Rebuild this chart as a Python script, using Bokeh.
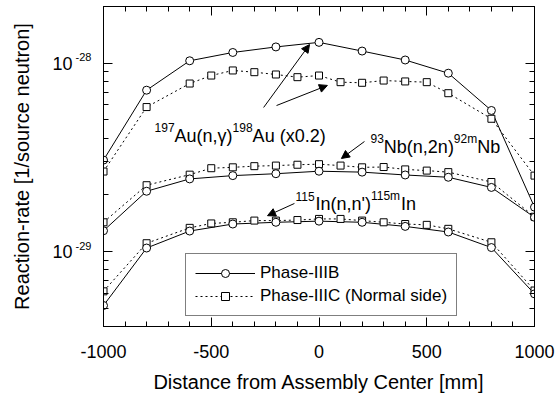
from bokeh.plotting import figure
from bokeh.models import (Range1d, FixedTicker, LogAxis, LinearAxis, Legend, LegendItem,
                          Label, Arrow, NormalHead, CustomJSTickFormatter)
from bokeh.embed import file_html
from bokeh.resources import INLINE
import math

FONT = "Liberation Sans"

# Measurement positions along the assembly axis [mm]
X_B = [-1000, -800, -600, -400, -200, 0, 200, 400, 600, 800, 1000]
X_C = [-1000, -800, -600, -500, -400, -300, -200, -100, 0, 100, 200, 300, 400,
       500, 600, 800, 1000]

# Reaction rates [1/source neutron]; Au values are already multiplied by 0.2
AU_B = [3.06e-29, 7.19e-29, 1.03e-28, 1.14e-28, 1.22e-28, 1.29e-28, 1.16e-28,
        1.04e-28, 8.85e-29, 5.61e-29, 1.72e-29]
AU_C = [2.66e-29, 5.85e-29, 7.80e-29, 8.60e-29, 9.15e-29, 8.96e-29, 8.71e-29,
        8.43e-29, 8.60e-29, 7.93e-29, 7.87e-29, 8.09e-29, 8.00e-29, 7.93e-29,
        6.93e-29, 5.07e-29, 2.53e-29]
NB_B = [1.29e-29, 2.09e-29, 2.43e-29, 2.53e-29, 2.59e-29, 2.67e-29, 2.64e-29,
        2.55e-29, 2.48e-29, 2.19e-29, 1.52e-29]
NB_C = [1.43e-29, 2.25e-29, 2.56e-29, 2.77e-29, 2.80e-29, 2.84e-29, 2.86e-29,
        2.89e-29, 2.91e-29, 2.86e-29, 2.80e-29, 2.81e-29, 2.73e-29, 2.69e-29,
        2.64e-29, 2.34e-29, 1.53e-29]
IN_B = [5.17e-30, 1.044e-29, 1.285e-29, 1.40e-29, 1.43e-29, 1.45e-29, 1.43e-29,
        1.36e-29, 1.27e-29, 1.05e-29, 5.96e-30]
IN_C = [6.15e-30, 1.107e-29, 1.336e-29, 1.41e-29, 1.43e-29, 1.46e-29, 1.46e-29,
        1.47e-29, 1.49e-29, 1.49e-29, 1.46e-29, 1.43e-29, 1.40e-29, 1.386e-29,
        1.32e-29, 1.12e-29, 6.21e-30]

SERIES_LABELS = ["Phase-IIIB", "Phase-IIIC (Normal side)"]
X_TITLE = "Distance from Assembly Center [mm]"
Y_TITLE = "Reaction-rate [1/source neutron]"

X_MAJOR = [-1000, -500, 0, 500, 1000]
X_MINOR = list(range(-1000, 1001, 100))
Y_MAJOR = [1e-29, 1e-28]
Y_MINOR = [m * 10.0 ** e for e in (-30, -29, -28) for m in range(2, 10)]

X_MIN, X_MAX = -1000, 1000
Y_MIN, Y_MAX = 4e-30, 2e-28

W, H = 555, 405
BL, BR, BT, BB = 103, 21, 6, 79

FRAME_W = W - BL - BR
FRAME_H = H - BT - BB
PX_PER_MM = FRAME_W / (X_MAX - X_MIN)
PX_PER_DEC = FRAME_H / math.log10(Y_MAX / Y_MIN)

# Exponents sit a few pixels above the decade base "10"
SUP_RAISE_PX = 6
sup_k = 10 ** (SUP_RAISE_PX / PX_PER_DEC)

p = figure(width=W, height=H, x_range=Range1d(X_MIN, X_MAX),
           y_range=Range1d(Y_MIN, Y_MAX), y_axis_type="log",
           output_backend="svg", toolbar_location=None,
           min_border_left=BL, min_border_right=BR,
           min_border_top=BT, min_border_bottom=BB)
p.extra_y_ranges = {"sup": Range1d(Y_MIN / sup_k, Y_MAX / sup_k)}
p.grid.visible = False
p.outline_line_color = "black"
p.outline_line_width = 1
p.background_fill_color = "white"
p.border_fill_color = "white"

x_ticker = FixedTicker(ticks=X_MAJOR, minor_ticks=X_MINOR)
y_ticker = FixedTicker(ticks=Y_MAJOR, minor_ticks=Y_MINOR)
y_label_ticker = FixedTicker(ticks=Y_MAJOR, minor_ticks=[])

plain_fmt = CustomJSTickFormatter(code="return String(tick);")
base_fmt = CustomJSTickFormatter(code="return '10';")
exp_fmt = CustomJSTickFormatter(code="return String(Math.round(Math.log10(tick)));")
blank_fmt = CustomJSTickFormatter(code="return '';")


def style_axis(ax):
    ax.axis_line_color = "black"
    ax.major_tick_line_color = "black"
    ax.minor_tick_line_color = "black"
    ax.major_tick_in = 9
    ax.major_tick_out = 0
    ax.minor_tick_in = 5
    ax.minor_tick_out = 0
    ax.major_label_text_font = FONT
    ax.major_label_text_color = "black"
    ax.axis_label_text_font = FONT
    ax.axis_label_text_font_style = "normal"
    ax.axis_label_text_color = "black"


def label_only(ax):
    ax.axis_line_color = None
    ax.major_tick_line_color = None
    ax.minor_tick_line_color = None
    ax.major_tick_in = 0
    ax.major_tick_out = 0
    ax.minor_tick_in = 0
    ax.minor_tick_out = 0


xa = p.xaxis[0]
xa.ticker = x_ticker
xa.formatter = plain_fmt
style_axis(xa)
xa.major_label_text_font_size = "18px"
xa.major_label_standoff = 18
xa.axis_label = X_TITLE
xa.axis_label_text_font_size = "20px"
xa.axis_label_standoff = 10

# Left axis carries the tick marks only
ya = p.yaxis[0]
ya.ticker = y_ticker
ya.formatter = blank_fmt
style_axis(ya)
ya.major_label_text_font_size = "0px"
ya.major_label_standoff = 0

# Decade exponents (raised) next to the frame
exp_axis = LogAxis(y_range_name="sup", ticker=y_label_ticker, formatter=exp_fmt)
style_axis(exp_axis)
label_only(exp_axis)
exp_axis.major_label_text_font_size = "11px"
exp_axis.major_label_standoff = 12
p.add_layout(exp_axis, "left")

# Decade base "10" and the axis title
base_axis = LogAxis(ticker=y_label_ticker, formatter=base_fmt)
style_axis(base_axis)
label_only(base_axis)
base_axis.major_label_text_font_size = "18px"
base_axis.major_label_standoff = 0
base_axis.axis_label = Y_TITLE
base_axis.axis_label_text_font_size = "20px"
base_axis.axis_label_standoff = 16
p.add_layout(base_axis, "left")

top = LinearAxis(ticker=x_ticker, formatter=blank_fmt)
style_axis(top)
top.major_label_text_font_size = "0px"
top.major_label_standoff = 0
p.add_layout(top, "above")

right = LogAxis(ticker=y_ticker, formatter=blank_fmt)
style_axis(right)
right.major_label_text_font_size = "0px"
right.major_label_standoff = 0
p.add_layout(right, "right")

# Curves: solid + circles for Phase-IIIB, dotted + squares for Phase-IIIC
legend_refs = {}
for name, xs_b, ys_b, xs_c, ys_c in [("au", X_B, AU_B, X_C, AU_C),
                                     ("nb", X_B, NB_B, X_C, NB_C),
                                     ("in", X_B, IN_B, X_C, IN_C)]:
    lc = p.line(xs_c, ys_c, line_color="black", line_width=1, line_dash="2 3")
    lb = p.line(xs_b, ys_b, line_color="black", line_width=1)
    sc = p.scatter(xs_c, ys_c, marker="square", size=7, line_color="black",
                   line_width=1, fill_color="white")
    sb = p.scatter(xs_b, ys_b, marker="circle", size=8, line_color="black",
                   line_width=1, fill_color="white")
    legend_refs[name] = (lb, sb, lc, sc)

lb, sb, lc, sc = legend_refs["au"]
legend = Legend(items=[LegendItem(label=SERIES_LABELS[0], renderers=[lb, sb]),
                       LegendItem(label=SERIES_LABELS[1], renderers=[lc, sc])],
                location=(82, 10), glyph_width=60, glyph_height=20,
                label_standoff=5, padding=9, spacing=3, margin=0,
                border_line_color="black", border_line_width=1,
                background_fill_color="white", background_fill_alpha=1,
                label_text_font=FONT, label_text_font_size="17px",
                label_text_color="black")
p.add_layout(legend)

# Rich-text reaction labels built from pieces (main text + superscripts)
ADV = {d: 0.556 for d in "0123456789"}
ADV.update({"A": 0.667, "u": 0.556, "(": 0.333, ")": 0.333, "n": 0.556,
            ",": 0.278, "\u03b3": 0.5, " ": 0.278, "x": 0.5, ".": 0.278,
            "N": 0.722, "b": 0.556, "m": 0.833, "I": 0.278, "'": 0.191,
            "-": 0.333})

MAIN, SUP, RAISE = 18, 12, 8


def text_width(text, size):
    return sum(ADV.get(c, 0.556) for c in text) * size


def shift_y(y, px):
    return y * 10 ** (px / PX_PER_DEC)


def rich_label(x0, y0, pieces, main=MAIN, sup=SUP):
    x = x0
    for text, is_sup in pieces:
        size = sup if is_sup else main
        y = shift_y(y0, RAISE) if is_sup else y0
        p.add_layout(Label(x=x, y=y, text=text, text_font=FONT,
                           text_font_size=f"{size}px", text_color="black",
                           text_align="left", text_baseline="alphabetic"))
        x += text_width(text, size) / PX_PER_MM


rich_label(-763, 4.13e-29, [("197", True), ("Au(n,\u03b3)", False),
                            ("198", True), ("Au (x0.2)", False)])
rich_label(239, 3.61e-29, [("93", True), ("Nb(n,2n)", False),
                           ("92m", True), ("Nb", False)])
rich_label(-109, 1.78e-29, [("115", True), ("In(n,n')", False),
                            ("115m", True), ("In", False)])

# Pointer arrows from the labels to their curves
for xs, ys, xe, ye in [(-257, 5.82e-29, -44, 1.256e-28),
                       (-197, 5.96e-29, 39, 7.62e-29),
                       (211, 3.84e-29, 104, 3.12e-29),
                       (-114, 1.80e-29, -239, 1.55e-29)]:
    p.add_layout(Arrow(end=NormalHead(size=8, fill_color="black",
                                      line_color="black", line_width=1),
                       x_start=xs, y_start=ys, x_end=xe, y_end=ye,
                       line_color="black", line_width=1))

open("out.html", "w").write(file_html(p, INLINE))
